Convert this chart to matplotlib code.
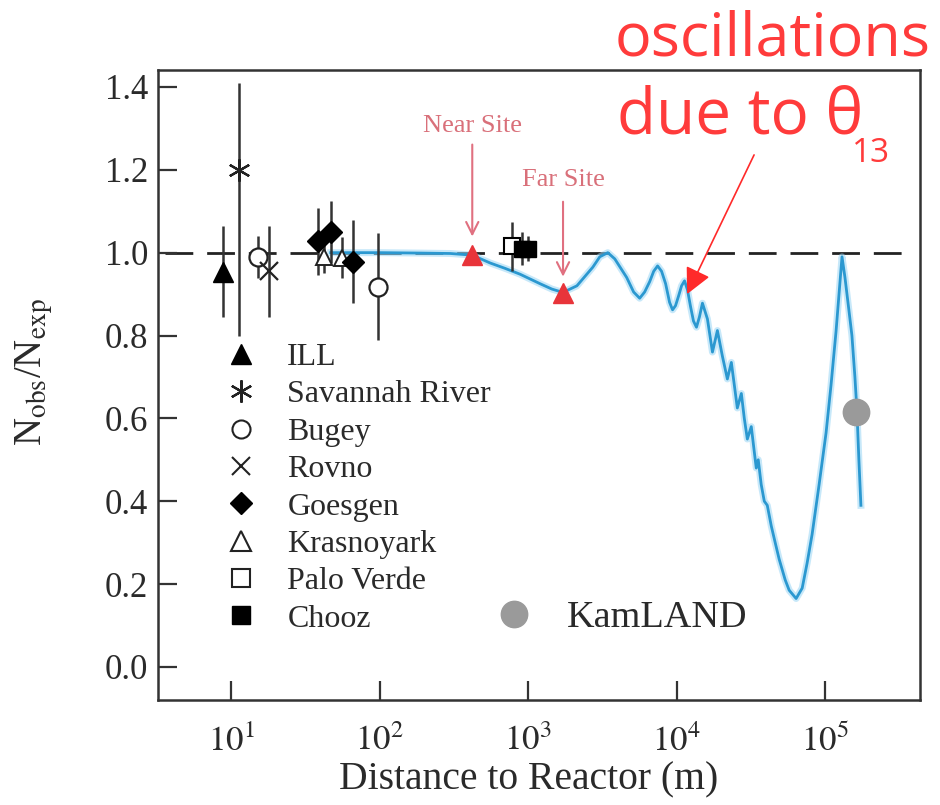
import numpy as np
import matplotlib
matplotlib.use('Agg')
import matplotlib.pyplot as plt
from matplotlib.lines import Line2D
from matplotlib.ticker import NullLocator

plt.rcParams['font.family'] = ['Liberation Serif', 'DejaVu Serif']
plt.rcParams['mathtext.fontset'] = 'stix'

# ---------------- data ----------------
ill_x = [8.8];            ill_y = [0.954];           ill_err = [0.11]
sr_x = [11.3];            sr_y = [1.20];             sr_err_lo = [0.40]; sr_err_hi = [0.21]
bugey_x = [15.2, 97.0];   bugey_y = [0.99, 0.918];   bugey_err = [0.05, 0.13]
rovno_x = [18.0];         rovno_y = [0.955];         rovno_err = [0.11]
goesgen_x = [38.4, 46.9, 65.9]; goesgen_y = [1.027, 1.05, 0.978]; goesgen_err = [0.08, 0.075, 0.10]
kras_x = [42.0, 56.0];    kras_y = [0.99, 0.988];    kras_err = [0.04, 0.05]
pv_x = [782.0];           pv_y = [1.015];            pv_err = [0.06]
chooz_x = [910.0, 1000.0]; chooz_y = [1.01, 1.01];   chooz_err = [0.04, 0.03]
near_x = [421.0];         near_y = [0.994]
far_x = [1720.0];         far_y = [0.903]
kam_x = [161000.0];       kam_y = [0.616]

curve_dist = [46.9, 101.6, 188, 300, 421, 556, 701, 883, 1205, 1449, 1718, 2133, 2730,
              3041, 3443, 3837, 4616, 5140, 5645, 6095, 6594, 7015, 7454, 7929, 8440,
              8974, 9400, 9842, 10310, 10810, 11320, 11850, 12420, 13000, 13620, 14260,
              14940, 16140, 17450, 18840, 20360, 21990, 23390, 24500, 25660, 27310,
              28590, 29970, 31860, 33360, 34420, 35490, 37170, 38980, 40830, 43450,
              46160, 49090, 53900, 57330, 63860, 70150, 75690, 81830, 91200, 101600,
              109700, 118600, 124200, 130100, 136200, 144900, 151700, 158900, 163900,
              169000, 174400]
curve_ratio = [1.0, 1.0, 0.999, 0.998, 0.994, 0.975, 0.962, 0.948, 0.925, 0.912, 0.904,
               0.920, 0.965, 0.99, 1.0, 0.985, 0.94, 0.905, 0.89, 0.905, 0.93, 0.955,
               0.968, 0.955, 0.925, 0.88, 0.862, 0.872, 0.895, 0.92, 0.932, 0.91, 0.87,
               0.835, 0.82, 0.845, 0.878, 0.84, 0.76, 0.812, 0.75, 0.695, 0.735, 0.68,
               0.625, 0.66, 0.60, 0.55, 0.58, 0.52, 0.48, 0.50, 0.44, 0.40, 0.39, 0.34,
               0.30, 0.26, 0.21, 0.185, 0.165, 0.19, 0.25, 0.32, 0.44, 0.565, 0.68, 0.81,
               0.90, 0.99, 0.94, 0.86, 0.80, 0.70, 0.62, 0.50, 0.39]

xticks = [10, 100, 1000, 10000, 100000]
xtick_labels = [r'$10^{1}$', r'$10^{2}$', r'$10^{3}$', r'$10^{4}$', r'$10^{5}$']
yticks = [0.0, 0.2, 0.4, 0.6, 0.8, 1.0, 1.2, 1.4]
ytick_labels = ['0.0', '0.2', '0.4', '0.6', '0.8', '1.0', '1.2', '1.4']
legend_labels = ['ILL', 'Savannah River', 'Bugey', 'Rovno', 'Goesgen',
                 'Krasnoyark', 'Palo Verde', 'Chooz']

# ---------------- figure ----------------
fig = plt.figure(figsize=(9.4, 8.05), dpi=100)
ax = fig.add_axes([158/940, 105/805, 762/940, 630/805])
ax.set_xscale('log')
ax.set_xlim(3.22, 4.36e5)
ax.set_ylim(-0.08, 1.441)

ax.axhline(1.0, xmin=0.009, xmax=0.98, color='#222222', lw=2.0,
           dashes=(10, 5), zorder=1)

# theory curve
ax.plot(curve_dist, curve_ratio, color='#9ad6f5', lw=5, alpha=0.55, zorder=2,
        solid_joinstyle='round')
ax.plot(curve_dist, curve_ratio, color='#2b98d0', lw=2.0, zorder=3,
        solid_joinstyle='round')

ebk = dict(ls='none', ecolor='#333333', elinewidth=1.8, capsize=0, zorder=4)
ax.errorbar(ill_x, ill_y, yerr=ill_err, marker='^', ms=14, mfc='black', mec='black', **ebk)
ax.errorbar(sr_x, sr_y, yerr=[sr_err_lo, sr_err_hi], marker=(6, 2, 0), ms=16,
            mfc='black', mec='#222222', mew=1.6, **ebk)
ax.errorbar(bugey_x, bugey_y, yerr=bugey_err, marker='o', ms=13, mfc='white',
            mec='#222222', mew=1.6, **ebk)
ax.errorbar(rovno_x, rovno_y, yerr=rovno_err, marker='x', ms=13, mec='#222222',
            mew=1.6, **ebk)
ax.errorbar(kras_x, kras_y, yerr=kras_err, marker='^', ms=11, mfc='white',
            mec='#222222', mew=1.4, **ebk)
ax.errorbar(goesgen_x, goesgen_y, yerr=goesgen_err, marker='D', ms=11, mfc='black',
            mec='black', **ebk)
ax.errorbar(pv_x, pv_y, yerr=pv_err, marker='s', ms=11, mfc='white', mec='black',
            mew=1.5, **ebk)
ax.errorbar(chooz_x, chooz_y, yerr=chooz_err, marker='s', ms=11, mfc='black',
            mec='black', **ebk)

ax.plot(near_x, near_y, ls='none', marker='^', ms=15, color='#e8343a', zorder=5)
ax.plot(far_x, far_y, ls='none', marker='^', ms=15, color='#e8343a', zorder=5)
ax.plot(kam_x, kam_y, ls='none', marker='o', ms=19, color='#9a9a9a', zorder=5)

# site annotations
site_col = '#d9707a'
ax.text(421, 1.306, 'Near Site', ha='center', va='center', color=site_col, fontsize=19)
ax.annotate('', xy=(421, 1.039), xytext=(421, 1.261),
            arrowprops=dict(arrowstyle='->', color='#e07080', lw=1.5,
                            mutation_scale=22, shrinkA=0, shrinkB=0))
ax.text(1720, 1.176, 'Far Site', ha='center', va='center', color=site_col, fontsize=19)
ax.annotate('', xy=(1720, 0.942), xytext=(1720, 1.123),
            arrowprops=dict(arrowstyle='->', color='#e07080', lw=1.5,
                            mutation_scale=22, shrinkA=0, shrinkB=0))

# big red arrow
ax.annotate('', xy=(11780, 0.90), xytext=(33270, 1.236), annotation_clip=False,
            arrowprops=dict(arrowstyle='-|>', color='#ff2a2a', lw=1.2,
                            mutation_scale=40, shrinkA=0, shrinkB=0))

# axes styling
ax.set_xticks(xticks)
ax.set_xticklabels(xtick_labels)
ax.xaxis.set_minor_locator(NullLocator())
ax.set_yticks(yticks)
ax.set_yticklabels(ytick_labels)
ax.tick_params(axis='both', direction='in', length=14, width=1.6, colors='#333333',
               labelcolor='#2a2a2a', labelsize=25)
ax.tick_params(axis='x', pad=18)
ax.tick_params(axis='y', pad=7)
for s in ax.spines.values():
    s.set_linewidth(1.8)
    s.set_color('#333333')

ax.set_xlabel('Distance to Reactor (m)', fontsize=28.5, color='#2a2a2a')
ax.xaxis.set_label_coords(0.486, -0.098)
ax.xaxis.label.set_va('top')
ax.set_ylabel(r'N$_{\rm obs}$/N$_{\rm exp}$', fontsize=28, color='#2a2a2a')
ax.yaxis.set_label_coords(-0.135, 0.52)

# legends
hkw = dict(ls='none', color='black')
handles = [
    Line2D([], [], marker='^', ms=14, mfc='black', mec='black', **hkw),
    Line2D([], [], marker=(6, 2, 0), ms=16, mew=1.6, mec='#222222', **hkw),
    Line2D([], [], marker='o', ms=13, mfc='white', mec='#222222', mew=1.5, **hkw),
    Line2D([], [], marker='x', ms=13, mec='#222222', mew=1.5, **hkw),
    Line2D([], [], marker='D', ms=11, mfc='black', mec='black', **hkw),
    Line2D([], [], marker='^', ms=14, mfc='white', mec='#222222', mew=1.5, **hkw),
    Line2D([], [], marker='s', ms=13, mfc='white', mec='#222222', mew=1.5, **hkw),
    Line2D([], [], marker='s', ms=13, mfc='black', mec='black', **hkw),
]
leg = ax.legend(handles, legend_labels, loc='upper left', bbox_to_anchor=(0.088, 0.567),
                frameon=False, fontsize=23, handlelength=1.0, handletextpad=0.95,
                labelspacing=0.25, borderpad=0, borderaxespad=0)
for t in leg.get_texts():
    t.set_color('#2a2a2a')
ax.add_artist(leg)
kh = [Line2D([], [], ls='none', marker='o', ms=19, color='#9a9a9a')]
leg2 = ax.legend(kh, ['KamLAND'], loc='upper left', bbox_to_anchor=(0.442, 0.158),
                 frameon=False, fontsize=27.5, handlelength=1.0, handletextpad=0.9,
                 borderpad=0, borderaxespad=0)
for t in leg2.get_texts():
    t.set_color('#2a2a2a')

# big red text
red = '#ff3b3b'
fig.text(615/940, 1 - 55/805, 'oscillations', ha='left', va='baseline', color=red,
         fontsize=44, family=['Open Sans', 'DejaVu Sans'])
fig.text(617/940, 1 - 133/805, 'due to θ', ha='left', va='baseline', color=red,
         fontsize=46, family=['Open Sans', 'DejaVu Sans'])
fig.text(852/940, 1 - 162/805, '13', ha='left', va='baseline', color=red,
         fontsize=24, family=['Open Sans', 'DejaVu Sans'])

fig.savefig('out.png', dpi=100)
